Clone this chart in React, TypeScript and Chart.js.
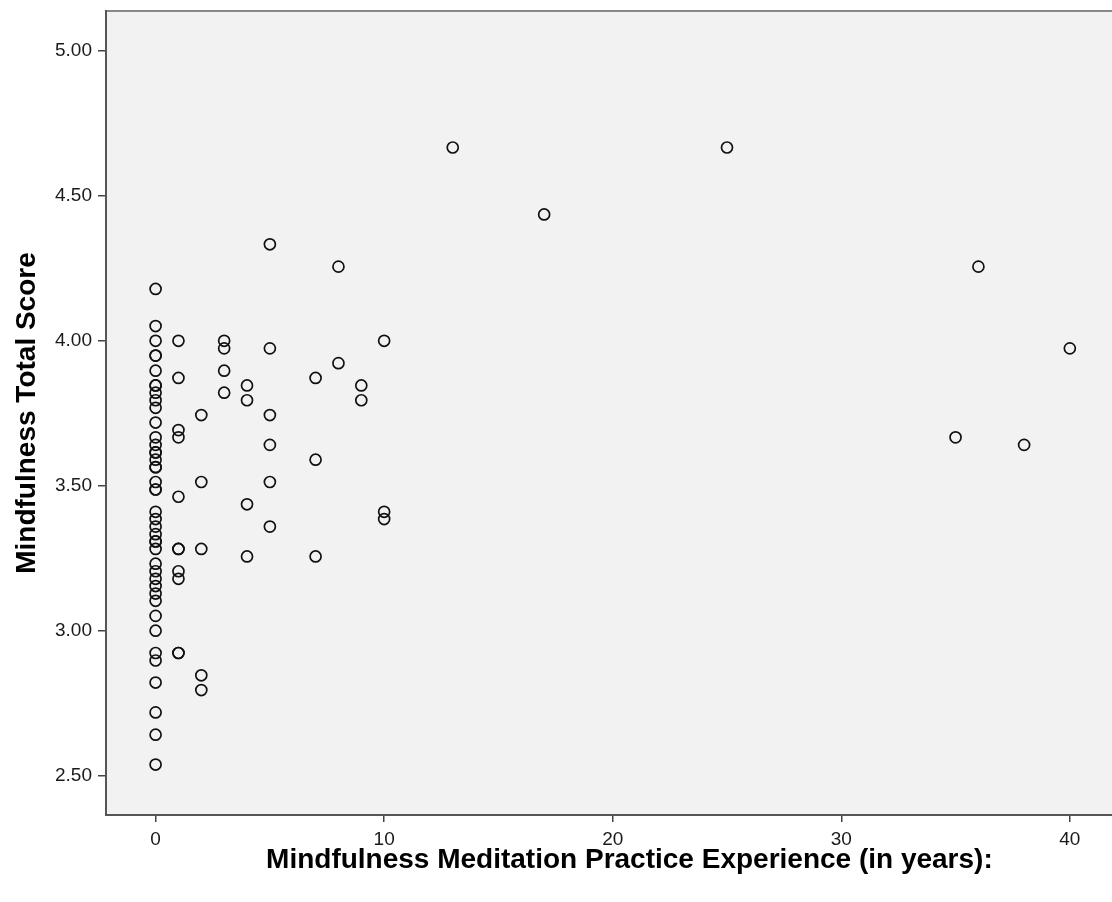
import { useEffect, useRef } from "react";
import { Chart, registerables } from "chart.js";

Chart.register(...registerables);

// ---- Data ----
const X_TICKS = [0, 10, 20, 30, 40];
const Y_TICKS = [2.5, 3.0, 3.5, 4.0, 4.5, 5.0];
const X_TITLE = "Mindfulness Meditation Practice Experience (in years):";
const Y_TITLE = "Mindfulness Total Score";

const scoresAt0 = [
  4.179, 4.051, 4.0, 3.949, 3.949, 3.897, 3.846, 3.846, 3.821, 3.795, 3.769,
  3.718, 3.667, 3.641, 3.615, 3.615, 3.59, 3.564, 3.564, 3.513, 3.487, 3.487,
  3.41, 3.385, 3.359, 3.333, 3.308, 3.308, 3.282, 3.231, 3.205, 3.179, 3.154,
  3.128, 3.103, 3.051, 3.0, 2.923, 2.897, 2.821, 2.718, 2.641, 2.538,
];
const scoresAt1 = [4.0, 3.872, 3.692, 3.667, 3.462, 3.282, 3.282, 3.205, 3.179, 2.923, 2.923];
const scoresAt2 = [3.744, 3.513, 3.282, 2.846, 2.795];
const scoresAt3 = [4.0, 3.974, 3.897, 3.821];
const scoresAt4 = [3.846, 3.795, 3.436, 3.256];
const scoresAt5 = [4.333, 3.974, 3.744, 3.641, 3.513, 3.359];
const scoresAt7 = [3.872, 3.59, 3.256];
const scoresAt8 = [4.256, 3.923];
const scoresAt9 = [3.846, 3.795];
const scoresAt10 = [4.0, 3.41, 3.385];
const scoresAt13 = [4.667];
const scoresAt17 = [4.436];
const scoresAt25 = [4.667];
const scoresAt35 = [3.667];
const scoresAt36 = [4.256];
const scoresAt38 = [3.641];
const scoresAt40 = [3.974];

const experienceYears = [0, 1, 2, 3, 4, 5, 7, 8, 9, 10, 13, 17, 25, 35, 36, 38, 40];
const scoreGroups = [
  scoresAt0, scoresAt1, scoresAt2, scoresAt3, scoresAt4, scoresAt5, scoresAt7,
  scoresAt8, scoresAt9, scoresAt10, scoresAt13, scoresAt17, scoresAt25,
  scoresAt35, scoresAt36, scoresAt38, scoresAt40,
];

const FONT = "'Liberation Sans', Arial, Helvetica, sans-serif";

const framePlugin = {
  id: "frame",
  beforeDraw(chart: any) {
    const { ctx, chartArea: a } = chart;
    ctx.save();
    ctx.fillStyle = "#f2f2f2";
    ctx.fillRect(a.left, a.top, a.right - a.left, a.bottom - a.top);
    ctx.restore();
  },
  beforeDatasetsDraw(chart: any) {
    const { ctx, chartArea: a } = chart;
    ctx.save();
    ctx.lineWidth = 2;
    ctx.strokeStyle = "#888888";
    ctx.beginPath();
    ctx.moveTo(a.left, a.top);
    ctx.lineTo(a.right, a.top);
    ctx.lineTo(a.right, a.bottom);
    ctx.stroke();
    ctx.strokeStyle = "#555555";
    ctx.beginPath();
    ctx.moveTo(a.left, a.top - 1);
    ctx.lineTo(a.left, a.bottom);
    ctx.lineTo(a.right, a.bottom);
    ctx.stroke();
    ctx.restore();
  },
};

export default function App() {
  const canvasRef = useRef<HTMLCanvasElement | null>(null);

  useEffect(() => {
    if (!canvasRef.current) return;
    const points: { x: number; y: number }[] = [];
    experienceYears.forEach((yr, i) => {
      scoreGroups[i].forEach((s) => points.push({ x: yr, y: s }));
    });

    const chart = new Chart(canvasRef.current, {
      type: "scatter",
      data: {
        datasets: [
          {
            data: points,
            pointStyle: "circle",
            pointRadius: 5.5,
            pointHoverRadius: 5.5,
            pointBorderWidth: 1.7,
            pointBorderColor: "#111111",
            pointBackgroundColor: "rgba(0,0,0,0)",
          },
        ],
      },
      options: {
        animation: false,
        responsive: false,
        maintainAspectRatio: false,
        devicePixelRatio: 1,
        layout: { padding: { left: 0, top: 11, right: 6, bottom: 0 } },
        plugins: { legend: { display: false }, tooltip: { enabled: false } },
        scales: {
          x: {
            type: "linear",
            min: -2.17,
            max: 43.63,
            afterBuildTicks: (s: any) => {
              s.ticks = X_TICKS.map((v) => ({ value: v }));
            },
            afterFit: (s: any) => {
              s.height = 87;
              s.paddingLeft = 0;
              s.paddingRight = 0;
            },
            border: { display: false },
            grid: {
              drawOnChartArea: false,
              drawTicks: true,
              tickLength: 7,
              color: "#444444",
              lineWidth: 1.5,
            },
            ticks: {
              font: { family: FONT, size: 19 },
              color: "#1a1a1a",
              padding: 6,
              maxRotation: 0,
              autoSkip: false,
              callback: (v: any) => String(v),
            },
            title: {
              display: true,
              text: X_TITLE,
              font: { family: FONT, size: 28, weight: "bold" },
              color: "#000000",
              padding: { top: 0, bottom: 25 },
            },
          },
          y: {
            type: "linear",
            min: 2.364,
            max: 5.138,
            afterBuildTicks: (s: any) => {
              s.ticks = Y_TICKS.map((v) => ({ value: v }));
            },
            afterFit: (s: any) => {
              s.width = 106;
              s.paddingTop = 0;
              s.paddingBottom = 0;
            },
            border: { display: false },
            grid: {
              drawOnChartArea: false,
              drawTicks: true,
              tickLength: 8,
              color: "#444444",
              lineWidth: 1.5,
            },
            ticks: {
              font: { family: FONT, size: 19 },
              color: "#1a1a1a",
              padding: 6,
              autoSkip: false,
              callback: (v: any) => Number(v).toFixed(2),
            },
            title: {
              display: true,
              text: Y_TITLE,
              font: { family: FONT, size: 28, weight: "bold" },
              color: "#000000",
              padding: { top: 10, bottom: 0 },
            },
          },
        },
      },
      plugins: [framePlugin],
    });
    return () => chart.destroy();
  }, []);

  return (
    <div
      style={{
        position: "fixed",
        left: 0,
        top: 0,
        width: 1112,
        height: 902,
        overflow: "hidden",
        background: "#ffffff",
      }}
    >
      <canvas ref={canvasRef} width={1160} height={902} style={{ display: "block" }} />
    </div>
  );
}
